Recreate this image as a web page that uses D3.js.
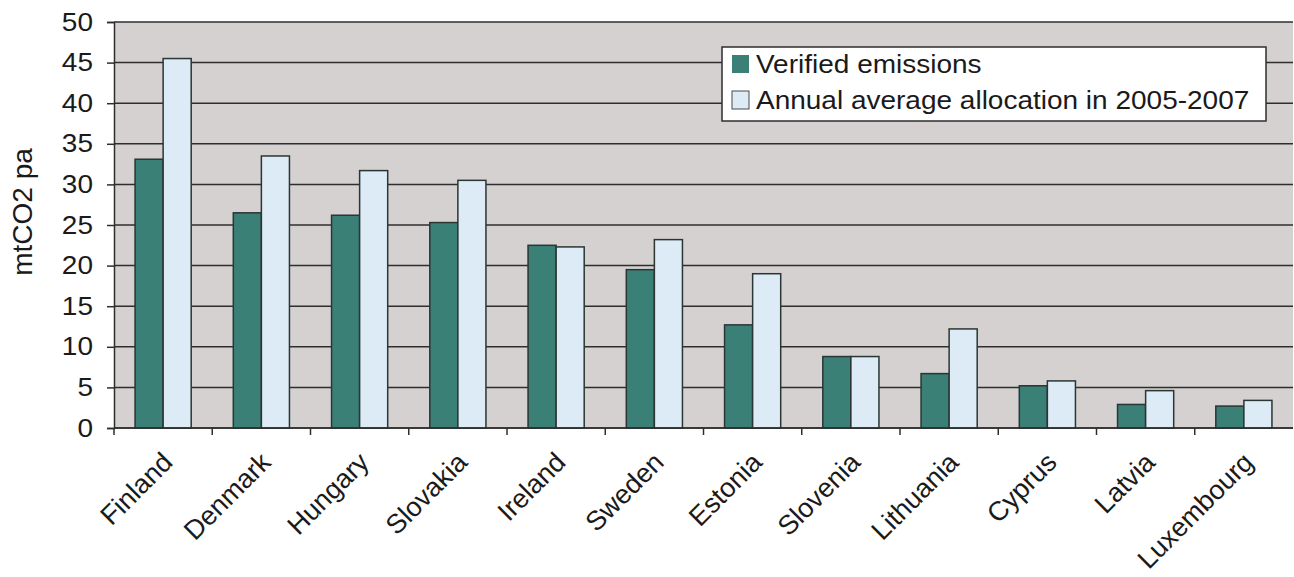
<!DOCTYPE html>
<html>
<head>
<meta charset="utf-8">
<script src="https://cdn.jsdelivr.net/npm/d3@7"></script>
<style>
  html, body { margin: 0; padding: 0; background: #ffffff; }
  svg { display: block; font-family: "Liberation Sans", Arial, sans-serif; }
</style>
</head>
<body>
<svg id="chart" width="1294" height="577"></svg>
<script>
// Emissions vs allocation per country (million tonnes CO2 per year)
const countries = ["Finland", "Denmark", "Hungary", "Slovakia", "Ireland", "Sweden",
                   "Estonia", "Slovenia", "Lithuania", "Cyprus", "Latvia", "Luxembourg"];
const verifiedEmissions = [33.1, 26.5, 26.2, 25.3, 22.5, 19.5, 12.7, 8.8, 6.7, 5.2, 2.9, 2.7];
const annualAllocation  = [45.5, 33.5, 31.7, 30.5, 22.3, 23.2, 19.0, 8.8, 12.2, 5.8, 4.6, 3.4];
const seriesNames = ["Verified emissions", "Annual average allocation in 2005-2007"];
const yTicks = [0, 5, 10, 15, 20, 25, 30, 35, 40, 45, 50];

const colors = ["#3a8077", "#dcebf6"];
const outline = "#2b3533";
const ink = "#1a1a1a";
const wide = "scale(1.12,1)"; // slightly wide lettering for horizontal labels

const margin = { left: 114, top: 22, right: 1, bottom: 149 };
const width = 1294, height = 577;
const svg = d3.select("#chart");

const x = d3.scaleBand()
  .domain(countries)
  .range([margin.left, width - margin.right]);

const y = d3.scaleLinear()
  .domain([0, 50])
  .range([height - margin.bottom, margin.top]);

// bar geometry: two bars per category, gap = 1.5 bar widths
const barW = x.bandwidth() / 3.5;
const groupOffset = barW * 0.75;

// plot background
svg.append("rect")
  .attr("x", margin.left)
  .attr("y", margin.top)
  .attr("width", width - margin.right - margin.left)
  .attr("height", y(0) - margin.top)
  .attr("fill", "#d5d1d1");

// horizontal gridlines
svg.append("g")
  .selectAll("line")
  .data(yTicks)
  .join("line")
  .attr("x1", margin.left)
  .attr("x2", width - margin.right)
  .attr("y1", d => y(d))
  .attr("y2", d => y(d))
  .attr("stroke", "#2e2e2e")
  .attr("stroke-width", 1.5);

// bars
const data = countries.map((c, i) => ({ country: c, values: [verifiedEmissions[i], annualAllocation[i]] }));

const groups = svg.append("g")
  .selectAll("g")
  .data(data)
  .join("g")
  .attr("transform", d => `translate(${x(d.country) + groupOffset},0)`);

groups.selectAll("rect")
  .data(d => d.values.map((v, k) => ({ v, k })))
  .join("rect")
  .attr("x", d => d.k * barW)
  .attr("y", d => y(d.v))
  .attr("width", barW)
  .attr("height", d => y(0) - y(d.v))
  .attr("fill", d => colors[d.k])
  .attr("stroke", outline)
  .attr("stroke-width", 1.5);

// y axis
const yAxis = d3.axisLeft(y)
  .tickValues(yTicks)
  .tickSize(7)
  .tickPadding(14);

const gy = svg.append("g")
  .attr("transform", `translate(${margin.left},0)`)
  .call(yAxis);
gy.select(".domain").attr("stroke", "#2e2e2e").attr("stroke-width", 1.5);
gy.selectAll(".tick line").attr("stroke", "#2e2e2e").attr("stroke-width", 1.5);
gy.selectAll(".tick text")
  .attr("x", 0)
  .attr("transform", `translate(-21,0) ${wide}`)
  .attr("fill", ink)
  .style("font-size", "25px")
  .style("font-family", "'Liberation Sans', Arial, sans-serif");

// x axis: ticks sit on the category boundaries
const gx = svg.append("g")
  .attr("transform", `translate(0,${y(0)})`);

gx.append("line")
  .attr("x1", margin.left)
  .attr("x2", width - margin.right)
  .attr("stroke", "#2e2e2e")
  .attr("stroke-width", 1.5);

gx.selectAll("line.tick")
  .data(countries)
  .join("line")
  .attr("class", "tick")
  .attr("x1", d => x(d))
  .attr("x2", d => x(d))
  .attr("y1", 0)
  .attr("y2", 7)
  .attr("stroke", "#2e2e2e")
  .attr("stroke-width", 1.5);

gx.selectAll("text")
  .data(countries)
  .join("text")
  .attr("transform", d => `translate(${x(d) + x.bandwidth() / 2 + 11},36) rotate(-45)`)
  .attr("text-anchor", "end")
  .attr("fill", ink)
  .style("font-size", "27px")
  .text(d => d);

// y axis title
svg.append("text")
  .attr("transform", `translate(32,212) rotate(-90)`)
  .attr("text-anchor", "middle")
  .attr("fill", ink)
  .style("font-size", "28px")
  .text("mtCO2 pa");

// legend
const legend = svg.append("g").attr("transform", "translate(722,47)");
legend.append("rect")
  .attr("width", 544)
  .attr("height", 74)
  .attr("fill", "#ffffff")
  .attr("stroke", "#2e2e2e")
  .attr("stroke-width", 1.5);

const items = legend.selectAll("g.item")
  .data(seriesNames)
  .join("g")
  .attr("class", "item")
  .attr("transform", (d, i) => `translate(10,${8 + i * 36})`);

items.append("rect")
  .attr("width", 17)
  .attr("height", 18)
  .attr("fill", (d, i) => colors[i])
  .attr("stroke", (d, i) => i === 0 ? "none" : "#4a4a4a")
  .attr("stroke-width", 1);

items.append("text")
  .attr("transform", `translate(24,18) ${wide}`)
  .attr("fill", ink)
  .style("font-size", "25px")
  .text(d => d);
</script>
</body>
</html>
